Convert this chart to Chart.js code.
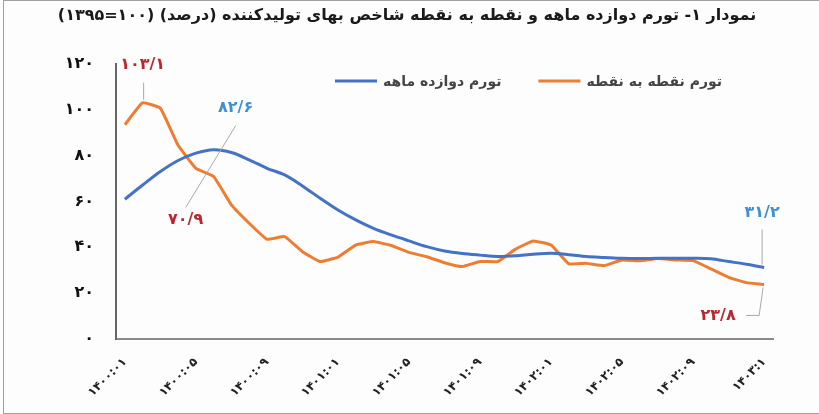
<!DOCTYPE html>
<html lang="fa">
<head>
<meta charset="utf-8">
<script src="https://cdn.jsdelivr.net/npm/chart.js@4.4.0/dist/chart.umd.min.js"></script>
<style>
  html, body { margin: 0; padding: 0; background: #fff; }
  #wrap { position: relative; width: 819px; height: 414px; background: #fdfdfd; }
  #frame { position: absolute; left: 3px; top: 0; width: 816px; height: 412px;
           border-top: 1px solid #a0a0a0; border-left: 1px solid #a0a0a0; border-bottom: 1px solid #a0a0a0;
           pointer-events: none; }
  canvas { position: absolute; left: 0; top: 0; }
</style>
</head>
<body>
<div id="wrap">
  <canvas id="grafico" width="819" height="414"></canvas>
  <div id="frame"></div>
</div>
<script>
// dados do gráfico
const titulo = 'نمودار ۱- تورم دوازده ماهه و نقطه به نقطه شاخص بهای تولیدکننده (درصد) (۱۰۰=۱۳۹۵)';

const meses = [
  '۱۴۰۰:۰۱', '۱۴۰۰:۰۲', '۱۴۰۰:۰۳', '۱۴۰۰:۰۴', '۱۴۰۰:۰۵', '۱۴۰۰:۰۶', '۱۴۰۰:۰۷', '۱۴۰۰:۰۸', '۱۴۰۰:۰۹', '۱۴۰۰:۱۰', '۱۴۰۰:۱۱', '۱۴۰۰:۱۲',
  '۱۴۰۱:۰۱', '۱۴۰۱:۰۲', '۱۴۰۱:۰۳', '۱۴۰۱:۰۴', '۱۴۰۱:۰۵', '۱۴۰۱:۰۶', '۱۴۰۱:۰۷', '۱۴۰۱:۰۸', '۱۴۰۱:۰۹', '۱۴۰۱:۱۰', '۱۴۰۱:۱۱', '۱۴۰۱:۱۲',
  '۱۴۰۲:۰۱', '۱۴۰۲:۰۲', '۱۴۰۲:۰۳', '۱۴۰۲:۰۴', '۱۴۰۲:۰۵', '۱۴۰۲:۰۶', '۱۴۰۲:۰۷', '۱۴۰۲:۰۸', '۱۴۰۲:۰۹', '۱۴۰۲:۱۰', '۱۴۰۲:۱۱', '۱۴۰۲:۱۲',
  '۱۴۰۳:۱'
];

const rotuloDozeMeses = 'تورم دوازده ماهه';
const dozeMeses = [
  61.0, 67.2, 73.1, 77.9, 81.1, 82.6, 81.4, 78.2, 74.5, 71.6, 66.8, 61.4,
  56.3, 52.0, 48.3, 45.4, 42.8, 40.3, 38.4, 37.3, 36.6, 36.0, 36.3, 37.0,
  37.4, 36.8, 36.0, 35.6, 35.2, 35.1, 35.2, 35.2, 35.2, 35.0, 33.8, 32.6,
  31.2
];

const rotuloPontoAPonto = 'تورم نقطه به نقطه';
const pontoAPonto = [
  93.5, 103.1, 100.7, 84.5, 74.5, 70.9, 58.5, 50.5, 43.5, 44.7, 38.1, 33.8,
  35.7, 41.0, 42.5, 40.8, 37.8, 35.9, 33.3, 31.6, 33.8, 33.8, 39.2, 42.8,
  41.0, 32.8, 33.0, 32.0, 34.5, 34.1, 35.1, 34.5, 34.2, 30.6, 26.9, 24.6,
  23.8
];

const ticksY = ['۰', '۲۰', '۴۰', '۶۰', '۸۰', '۱۰۰', '۱۲۰'];

// rótulos de destaque: [dataset, índice, texto]
const destaques = [
  [1, 1, '۱۰۳/۱'],
  [0, 5, '۸۲/۶'],
  [1, 5, '۷۰/۹'],
  [0, 36, '۳۱/۲'],
  [1, 36, '۲۳/۸']
];

const FONTE = '"DejaVu Sans", sans-serif';
const AZUL = '#4472C4';
const LARANJA = '#ED7D31';
const VERMELHO = '#B8282E';
const AZUL_CLARO = '#3F8FD6';

// plugin que desenha título, legenda interna e os destaques
const pluginExtras = {
    id: 'extras',
    afterDraw(chart) {
        const ctx = chart.ctx;
        ctx.save();

        // título
        ctx.direction = 'rtl';
        ctx.font = 'bold 16px ' + FONTE;
        ctx.fillStyle = '#1a1a1a';
        ctx.textAlign = 'center';
        ctx.textBaseline = 'middle';
        ctx.fillText(titulo, 407, 16);

        // legenda dentro da área do gráfico
        ctx.font = 'bold 14px ' + FONTE;
        ctx.textBaseline = 'middle';
        ctx.textAlign = 'left';
        let x = 335;
        const yLeg = 81;
        chart.data.datasets.forEach(ds => {
            ctx.strokeStyle = ds.borderColor;
            ctx.lineWidth = 3;
            ctx.beginPath();
            ctx.moveTo(x, yLeg);
            ctx.lineTo(x + 42, yLeg);
            ctx.stroke();
            ctx.fillStyle = '#444444';
            const w = ctx.measureText(ds.label).width;
            ctx.fillText(ds.label, x + 48, yLeg + 1);
            x += 45 + w + 40;
        });

        // destaques
        const pt = (d, i) => chart.getDatasetMeta(d).data[i];
        ctx.font = 'bold 16px ' + FONTE;
        ctx.textAlign = 'center';
        ctx.strokeStyle = '#aaaaaa';
        ctx.lineWidth = 1;

        const linha = (pts) => {
            ctx.beginPath();
            ctx.moveTo(pts[0][0], pts[0][1]);
            for (let k = 1; k < pts.length; k++) ctx.lineTo(pts[k][0], pts[k][1]);
            ctx.stroke();
        };

        destaques.forEach(([d, i, texto]) => {
            const p = pt(d, i);
            ctx.fillStyle = d === 0 ? AZUL_CLARO : VERMELHO;
            if (d === 1 && i === 1) {
                linha([[p.x + 1, p.y - 3], [p.x + 1, p.y - 20]]);
                ctx.fillText(texto, p.x, p.y - 38);
            } else if (d === 0 && i === 5) {
                const q = pt(1, 5);
                linha([[p.x + 22, p.y - 24], [q.x - 28, q.y + 31]]);
                ctx.fillText(texto, p.x + 22, p.y - 42);
            } else if (d === 1 && i === 5) {
                ctx.fillText(texto, p.x - 28, p.y + 43);
            } else if (d === 0 && i === 36) {
                linha([[p.x - 2, p.y - 3], [p.x - 2, p.y - 38]]);
                ctx.fillText(texto, p.x - 2, p.y - 55);
            } else if (d === 1 && i === 36) {
                linha([[p.x - 1, p.y + 3], [p.x - 5, p.y + 31], [p.x - 18, p.y + 31]]);
                ctx.fillText(texto, p.x - 46, p.y + 31);
            }
        });

        ctx.restore();
    }
};

new Chart(document.getElementById('grafico'), {
    type: 'line',
    data: {
        labels: meses,
        datasets: [
            { label: rotuloDozeMeses, data: dozeMeses, borderColor: AZUL, borderWidth: 3, pointRadius: 0, tension: 0.3 },
            { label: rotuloPontoAPonto, data: pontoAPonto, borderColor: LARANJA, borderWidth: 3, pointRadius: 0, tension: 0.1 }
        ]
    },
    options: {
        responsive: false,
        animation: false,
        devicePixelRatio: 1,
        layout: { padding: { top: 64, right: 46, bottom: 0, left: 0 } },
        plugins: {
            legend: { display: false },
            title: { display: false },
            tooltip: { enabled: false }
        },
        scales: {
            x: {
                offset: true,
                grid: { display: false, drawTicks: false },
                border: { display: true, color: '#8a8a8a', width: 2 },
                ticks: {
                    autoSkip: false,
                    minRotation: 45,
                    maxRotation: 45,
                    padding: 16,
                    color: '#222',
                    font: { family: FONTE, size: 12, weight: 'bold' },
                    callback: (v, i) => (i % 4 === 0 ? meses[i] : '')
                },
                afterFit: (s) => { s.height = 75; }
            },
            y: {
                min: 0,
                max: 120,
                grid: { display: false, drawTicks: false },
                border: { display: true, color: '#666', width: 2 },
                ticks: {
                    stepSize: 20,
                    padding: 22,
                    color: '#111',
                    font: { family: FONTE, size: 16, weight: 'bold' },
                    callback: (v, i) => ticksY[i]
                },
                afterFit: (s) => { s.width = 116; }
            }
        }
    },
    plugins: [pluginExtras]
});
</script>
</body>
</html>
